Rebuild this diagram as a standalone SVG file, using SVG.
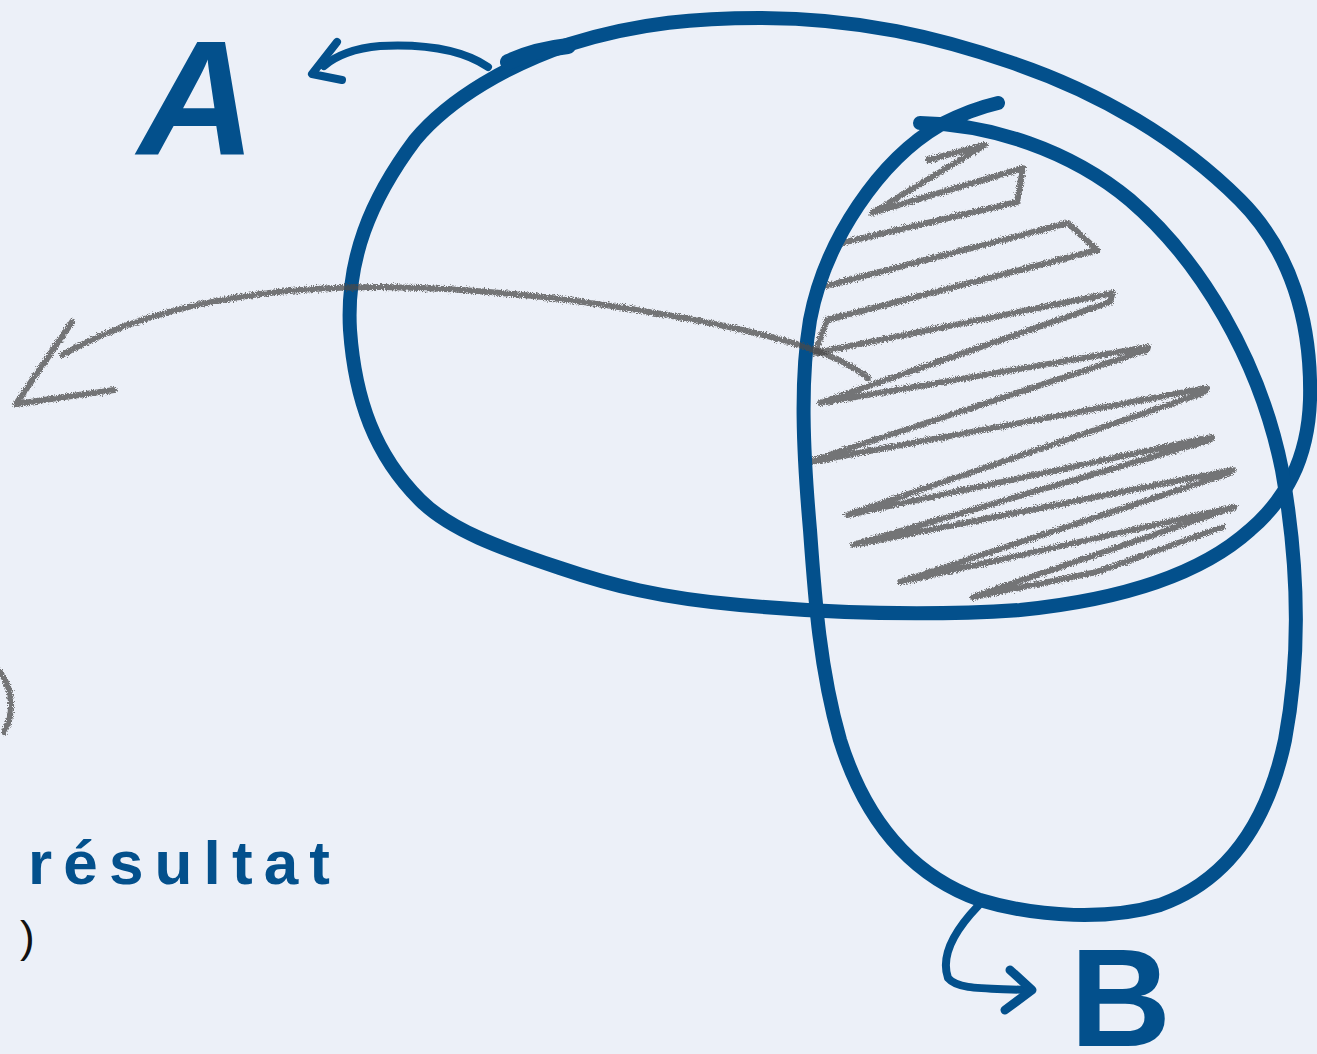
<svg xmlns="http://www.w3.org/2000/svg" width="1317" height="1054" viewBox="0 0 1317 1054">
<defs>
<filter id="pencil" x="-5%" y="-5%" width="110%" height="110%">
<feTurbulence type="fractalNoise" baseFrequency="1.1" numOctaves="2" seed="3" result="n"/>
<feDisplacementMap in="SourceGraphic" in2="n" scale="6" xChannelSelector="R" yChannelSelector="G"/>
</filter>
<style>
.ink{fill:none;stroke:#03508C;stroke-linecap:round;stroke-linejoin:round}
.pen{fill:none;stroke:#4a4a4a;stroke-opacity:0.75;stroke-width:6;stroke-linecap:round;stroke-linejoin:round}
.lbl{font-family:"Liberation Sans",Arial,sans-serif;font-weight:bold;fill:#03508C}
</style>
</defs>
<rect width="1317" height="1054" fill="#ECF0F8"/>

<g id="hatching" filter="url(#pencil)">
<polyline class="pen" points="928,160 985,145 872,213 1023,168 1017,202 833,245 822,287 1068,223 1097,250 827,320 815,353 1113,293 1110,302 820,403 1148,347 1147,350 805,463 1207,388 1203,393 847,515 1212,437 1210,440 853,545 1233,470 1230,473 900,582 1235,507 973,597 1097,572 1223,527"/>
</g>

<g id="setA">
<path class="ink" stroke-width="14" d="M570,44 C640,22 700,18 760,18 C860,18 940,38 1010,62 C1100,92 1180,140 1240,200 C1290,250 1312,320 1310,400 C1308,460 1285,500 1250,530 C1200,575 1120,600 1020,610 C930,616 840,614 740,605 C660,598 610,585 560,568 C500,548 450,530 420,500 C375,455 355,400 350,330 C346,260 370,200 415,140 C450,98 510,64 570,44"/>
<path class="ink" stroke-width="16" d="M508,62 C530,52 550,48 568,46"/>
<text class="lbl" x="138" y="155" font-size="163" font-style="italic">A</text>
<path class="ink" stroke-width="8" d="M488,67 C460,48 420,44 380,46 C355,48 335,56 324,66"/>
<path class="ink" stroke-width="8" d="M337,42 L312,74 L342,80"/>
</g>

<g id="setB">
<path class="ink" stroke-width="14" d="M920,123 C990,124 1070,150 1130,200 C1200,260 1260,360 1282,470 C1298,560 1302,650 1285,740 C1268,820 1230,880 1160,905 C1110,920 1040,918 980,900 C910,875 865,820 840,740 C820,670 815,600 810,530 C803,450 800,380 810,320 C825,240 880,160 940,125 C965,112 985,106 998,103"/>
<path class="ink" stroke-width="8" d="M978,906 C955,930 940,955 948,978 C958,990 985,988 1026,990"/>
<path class="ink" stroke-width="9" d="M1010,970 L1032,990 L1005,1010"/>
<text class="lbl" x="1070" y="1046" font-size="140">B</text>
</g>

<g id="connectors" filter="url(#pencil)">
<path class="pen" d="M868,378 C840,355 790,340 720,325 C620,305 500,288 380,287 C260,287 150,305 62,355"/>
<path class="pen" d="M72,322 L16,404 L114,390"/>
<path class="pen" d="M0,672 C14,690 14,715 4,732"/>
</g>

<g id="result">
<text class="lbl" x="28" y="884" font-size="62" textLength="302" lengthAdjust="spacing">résultat</text>
<text x="20" y="952" font-family="Liberation Sans,Arial,sans-serif" font-size="44" fill="#111">)</text>
</g>
</svg>
